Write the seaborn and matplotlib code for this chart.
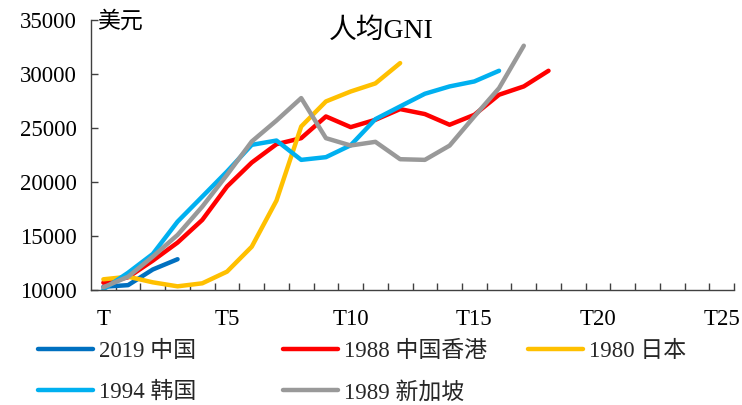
import matplotlib
matplotlib.use("Agg")
import matplotlib.pyplot as plt
from matplotlib.lines import Line2D
import seaborn as sns
import pandas as pd
import numpy as np

# Per-capita GNI (USD) by years since reaching ~10k, for each economy
series_names = ["2019 中国", "1988 中国香港", "1980 日本", "1994 韩国", "1989 新加坡"]
china = [10300, 10450, 11900, 12850]
hong_kong = [10680, 11180, 12720, 14390, 16490, 19580, 21800, 23500, 24060, 26070,
             25080, 25760, 26750, 26290, 25300, 26220, 28080, 28850, 30300]
japan = [10990, 11230, 10710, 10340, 10620, 11700, 14010, 18280, 25140, 27460,
         28380, 29130, 31010]
korea = [10060, 11600, 13340, 16330, 18650, 20970, 23440, 23840, 22050, 22300,
         23400, 25820, 27000, 28170, 28850, 29310, 30300]
singapore = [10250, 11230, 13090, 15100, 17720, 20660, 23750, 25690, 27770, 24060,
             23380, 23720, 22110, 22050, 23370, 26070, 28690, 32620]
x_labels = ["T", "T5", "T10", "T15", "T20", "T25"]
y_ticks = [10000, 15000, 20000, 25000, 30000, 35000]

colors = ["#0070C0", "#FF0000", "#FFC000", "#00B0F0", "#999999"]

frames = []
for name, vals in zip(series_names, [china, hong_kong, japan, korea, singapore]):
    frames.append(pd.DataFrame({"t": np.arange(len(vals)), "gni": vals, "series": name}))
df = pd.concat(frames, ignore_index=True)

sns.set_theme(style="white")
plt.rcParams["font.family"] = ["Liberation Serif", "Noto Sans CJK SC"]

fig = plt.figure(figsize=(7.42, 4.05), dpi=100)
ax = fig.add_axes([91 / 742, 1 - 290 / 405, (734 - 91) / 742, (290 - 20) / 405])

sns.lineplot(data=df, x="t", y="gni", hue="series", hue_order=series_names,
             palette=colors, linewidth=3.2, sort=False, legend=False, ax=ax,
             solid_capstyle="round", solid_joinstyle="round")

ax.set_xlim(-0.5, 25.5)
ax.set_ylim(10000, 35000)
ax.set_xticks(np.arange(0, 26, 5))
ax.set_xticklabels(x_labels)
ax.set_xticks(np.arange(0.5, 26, 1.0), minor=True)
ax.set_yticks(y_ticks)
ax.set_yticklabels([str(v) for v in y_ticks])
ax.set_xlabel("")
ax.set_ylabel("")

ax.tick_params(axis="x", which="major", length=0, pad=14, labelsize=16.5, colors="black")
ax.tick_params(axis="x", which="minor", direction="in", length=5, width=1, color="#404040", bottom=True)
ax.tick_params(axis="y", which="major", direction="in", length=5, width=1, color="#404040",
               pad=10, labelsize=16.5, left=True, labelcolor="black")

for side in ["top", "right"]:
    ax.spines[side].set_visible(False)
for side in ["left", "bottom"]:
    ax.spines[side].set_color("#404040")
    ax.spines[side].set_linewidth(1.0)

ax.text(0.452, 0.96, "人均GNI", transform=ax.transAxes, ha="center", va="center",
        fontsize=20, color="black")
ax.text(0.009, 0.995, "美元", transform=ax.transAxes, ha="left", va="center",
        fontsize=16.5, color="black")

# Legend laid out as three separate columns below the plot
handles = [Line2D([0], [0], color=c, linewidth=3.2, solid_capstyle="round") for c in colors]
columns = [([0, 3], 38), ([1, 4], 283), ([2], 528)]
legends = []
for idx, xpix in columns:
    leg = fig.legend([handles[i] for i in idx], [series_names[i] for i in idx],
                     loc="upper left", bbox_to_anchor=(xpix / 742, 1 - 341 / 405),
                     frameon=False, fontsize=16.5, handlelength=2.4, handletextpad=0.25,
                     labelspacing=0.85, borderpad=0, borderaxespad=0)
    legends.append(leg)

fig.savefig("out.png", dpi=100)
